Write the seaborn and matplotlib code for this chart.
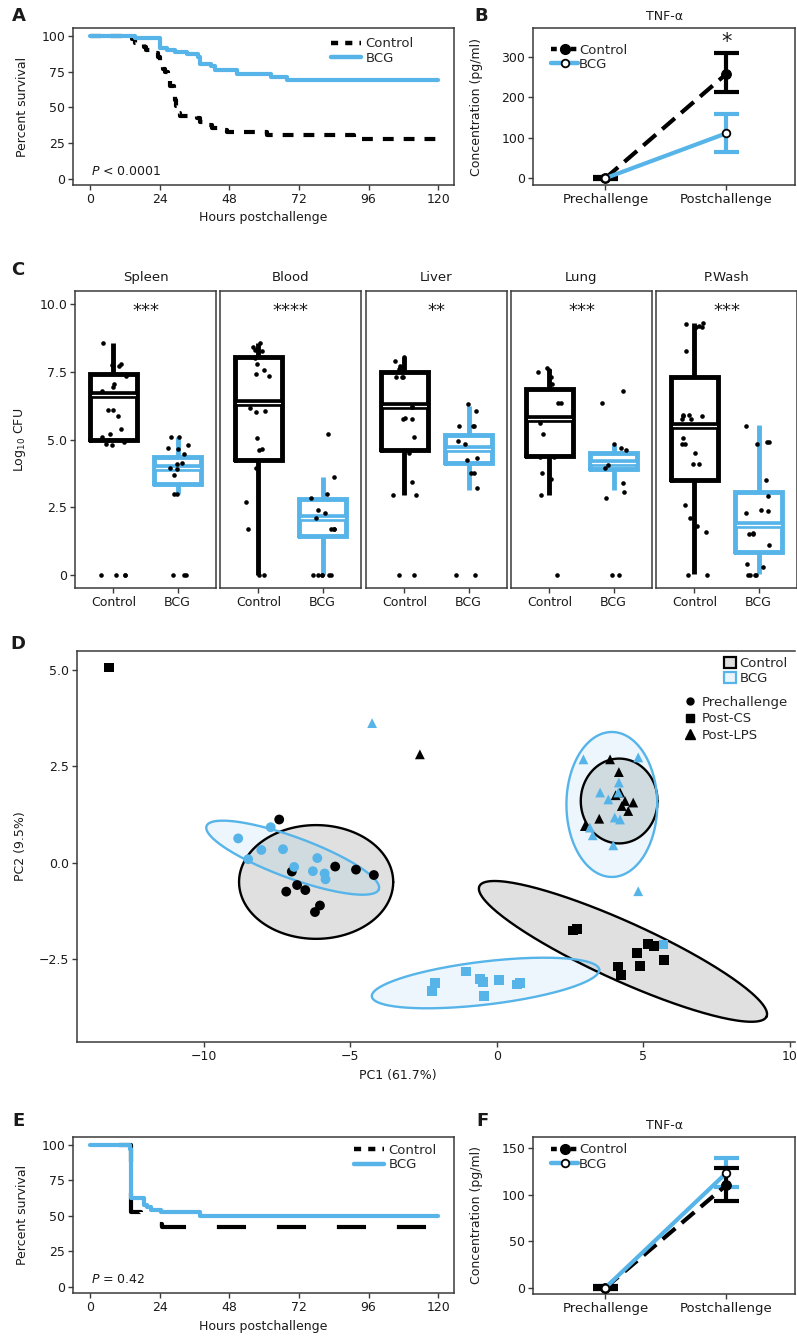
import numpy as np
import pandas as pd
import matplotlib
matplotlib.use("Agg")
import matplotlib.pyplot as plt
import seaborn as sns
from matplotlib.lines import Line2D
from matplotlib.patches import Patch

# ---------------- data ----------------
# Panel A: Kaplan-Meier survival (hours, percent)
A_ctrl_hours = [0, 14.5, 15.5, 18.5, 19.3, 22.5, 23.3, 24.2, 25.0, 25.6, 26.8, 27.4, 28.8, 29.1,
                29.4, 30.0, 31.0, 36.8, 38.0, 39.5, 42.0, 44.5, 47.0, 61.0, 91.0, 120]
A_ctrl_surv = [100, 98, 95, 92, 90, 88, 85, 81, 77, 75, 70, 65, 60, 55,
               51, 46, 44, 42.5, 40, 38, 35.5, 34, 32.5, 31, 28, 28]
A_bcg_hours = [0, 15.5, 24.0, 26.5, 29.3, 33.5, 37.0, 38.0, 41.5, 43.0, 50.5, 62.5, 68.0, 120]
A_bcg_surv = [100, 98.5, 91.5, 90, 88.5, 87.5, 85, 80.5, 79, 76.5, 73.5, 71, 69, 69]

# Panel B: TNF-a (pg/ml)
tnf_timepoints = ["Prechallenge", "Postchallenge"]
B_ctrl_mean = [0, 258]
B_ctrl_lo = [-2, 213]
B_ctrl_hi = [2, 309]
B_bcg_mean = [0, 111]
B_bcg_lo = [-2, 64]
B_bcg_hi = [2, 160]

# Panel C: log10 CFU per organ
organs = ["Spleen", "Blood", "Liver", "Lung", "P.Wash"]
organ_stars = ["***", "****", "**", "***", "***"]
groups = ["Control", "BCG"]
spleen_ctrl = [8.55, 7.8, 7.75, 7.7, 7.35, 7.05, 6.95, 6.8, 6.1, 6.1, 5.85, 5.4, 5.2, 5.1, 5.0, 4.9, 4.85, 4.8, 0, 0, 0, 0]
spleen_bcg = [5.1, 5.1, 4.8, 4.7, 4.65, 4.45, 4.15, 4.1, 3.95, 3.9, 3.7, 3.0, 3.0, 0, 0, 0]
blood_ctrl = [8.55, 8.4, 8.35, 8.3, 8.25, 8.0, 7.8, 7.55, 7.4, 7.35, 6.15, 6.05, 6.0, 5.05, 4.65, 4.6, 3.95, 2.7, 1.7, 0, 0]
blood_bcg = [5.2, 3.6, 3.0, 2.85, 2.4, 2.3, 2.1, 1.7, 1.7, 1.7, 0, 0, 0, 0, 0, 0]
liver_ctrl = [8.05, 7.9, 7.7, 7.65, 7.6, 7.3, 7.3, 7.3, 6.2, 6.2, 5.8, 5.75, 5.75, 5.1, 4.5, 3.45, 2.95, 2.95, 0, 0]
liver_bcg = [6.3, 6.05, 5.5, 5.5, 5.5, 4.95, 4.85, 4.3, 4.25, 3.75, 3.75, 3.2, 0, 0]
lung_ctrl = [7.65, 7.55, 7.5, 7.3, 7.05, 6.35, 6.35, 5.6, 5.2, 4.35, 4.35, 3.75, 3.55, 2.95, 0]
lung_bcg = [6.8, 6.35, 4.85, 4.7, 4.6, 4.05, 3.95, 3.4, 3.05, 2.85, 0, 0]
pwash_ctrl = [9.3, 9.25, 9.2, 9.15, 9.15, 8.25, 5.9, 5.9, 5.85, 5.85, 5.75, 5.75, 5.05, 4.85, 4.85,
              4.5, 4.1, 4.1, 2.6, 2.1, 1.8, 1.6, 0, 0]
pwash_bcg = [5.5, 4.9, 4.9, 4.85, 3.5, 2.9, 2.4, 2.35, 2.3, 1.55, 1.5, 1.5, 1.1, 0.4, 0.3, 0, 0, 0, 0]

box_q1_ctrl = [5.0, 4.25, 4.6, 4.4, 3.5]
box_med_ctrl = [6.65, 6.35, 6.25, 5.75, 5.5]
box_q3_ctrl = [7.4, 8.05, 7.5, 6.85, 7.3]
box_lo_ctrl = [5.0, 0.0, 2.95, 2.95, 0.05]
box_hi_ctrl = [8.55, 8.55, 8.05, 7.6, 9.3]
box_q1_bcg = [3.35, 1.45, 4.15, 3.9, 0.85]
box_med_bcg = [3.95, 2.1, 4.65, 4.15, 1.85]
box_q3_bcg = [4.35, 2.8, 5.15, 4.5, 3.05]
box_lo_bcg = [3.0, 0.0, 3.15, 3.15, 0.05]
box_hi_bcg = [5.1, 3.6, 6.25, 4.8, 5.55]

# Panel D: PCA scores
pre_ctrl_pc1 = [-7.43, -7.0, -6.82, -6.54, -7.19, -5.52, -4.81, -4.20, -6.04, -6.21]
pre_ctrl_pc2 = [1.12, -0.23, -0.58, -0.71, -0.75, -0.10, -0.18, -0.32, -1.11, -1.28]
pre_bcg_pc1 = [-8.83, -7.72, -8.04, -8.49, -7.30, -6.13, -6.92, -6.28, -5.88, -5.85]
pre_bcg_pc2 = [0.63, 0.92, 0.33, 0.09, 0.35, 0.12, -0.11, -0.22, -0.28, -0.43]
cs_ctrl_pc1 = [-13.23, 2.72, 2.60, 5.16, 5.36, 4.77, 5.71, 4.14, 4.88, 4.23]
cs_ctrl_pc2 = [5.06, -1.71, -1.76, -2.10, -2.17, -2.34, -2.53, -2.69, -2.67, -2.92]
cs_bcg_pc1 = [5.68, -1.06, -0.58, -0.49, 0.08, 0.67, 0.78, -0.43, -2.12, -2.21]
cs_bcg_pc2 = [-2.12, -2.82, -3.01, -3.10, -3.05, -3.16, -3.13, -3.46, -3.13, -3.33]
lps_ctrl_pc1 = [-2.63, 3.86, 4.16, 4.20, 4.37, 4.65, 4.48, 3.49, 3.00, 4.26, 4.05]
lps_ctrl_pc2 = [2.81, 2.68, 2.35, 1.82, 1.60, 1.56, 1.34, 1.14, 0.95, 1.47, 1.75]
lps_bcg_pc1 = [-4.26, 2.95, 4.82, 4.16, 3.52, 3.80, 4.14, 4.02, 4.20, 3.17, 3.27, 3.97, 4.82]
lps_bcg_pc2 = [3.62, 2.68, 2.73, 2.08, 1.82, 1.64, 1.82, 1.17, 1.12, 0.91, 0.71, 0.45, -0.74]

# confidence ellipses: centre and two conjugate semi-diameters (data units)
ell_group = ["Control", "BCG", "Control", "BCG", "Control", "BCG"]
ell_cx = [-6.17, -6.97, 4.17, 3.92, 4.30, -0.39]
ell_cy = [-0.50, 0.13, 1.60, 1.51, -2.30, -3.12]
ell_ux = [2.63, 2.94, 1.31, 1.55, 4.90, 3.88]
ell_uy = [0.0, -0.82, 0.0, 0.0, -1.69, 0.35]
ell_vx = [0.0, -0.24, 0.0, 0.0, -0.41, 0.085]
ell_vy = [1.475, -0.50, 1.10, 1.88, -0.69, -0.555]

# Panel E: Kaplan-Meier survival
E_ctrl_hours = [0, 14.0, 17.3, 17.8, 18.3, 22.0, 24.8, 120]
E_ctrl_surv = [100, 52.5, 50.5, 47.5, 46, 44.5, 42.5, 42.5]
E_bcg_hours = [0, 13.8, 14.0, 18.5, 19.5, 21.0, 24.5, 38.0, 120]
E_bcg_surv = [100, 97, 62.5, 58, 56.5, 54.5, 52.5, 50, 50]

# Panel F: TNF-a
F_ctrl_mean = [0, 110]
F_ctrl_lo = [-1.5, 93]
F_ctrl_hi = [1.5, 129]
F_bcg_mean = [0, 123]
F_bcg_lo = [-1.5, 108]
F_bcg_hi = [1.5, 139]

# ---------------- style ----------------
sns.set_theme(style="ticks")
plt.rcParams["font.family"] = ["DejaVu Sans"]
plt.rcParams["mathtext.fontset"] = "dejavusans"
BLUE = "#56B4E9"
INK = "#1a1a1a"
SPINE = "#3a3a3a"
W, H = 797, 1339

fig = plt.figure(figsize=(W / 100, H / 100), dpi=100)


def add_ax(l, t, r, b):
    return fig.add_axes([l / W, 1 - b / H, (r - l) / W, (b - t) / H])


def frame(ax):
    for s in ax.spines.values():
        s.set_visible(True)
        s.set_color(SPINE)
        s.set_linewidth(1.1)
    ax.tick_params(axis="both", direction="out", length=3.5, width=1.0, color=SPINE,
                   labelsize=9, labelcolor=INK, pad=2)
    ax.grid(False)


def km(ax, hours, surv, **kw):
    sns.lineplot(x=hours, y=surv, drawstyle="steps-post", estimator=None, sort=False,
                 ax=ax, **kw)


def letter(x, y, s):
    fig.text(x / W, 1 - y / H, s, fontsize=13, fontweight="bold", color=INK,
             ha="center", va="center")


def survival_panel(ax, ch, cs, bh, bs, ctrl_ls, ptext, leg_anchor):
    km(ax, ch, cs, color="black", lw=3, linestyle=ctrl_ls, solid_capstyle="butt")
    km(ax, bh, bs, color=BLUE, lw=3)
    ax.set_xlim(-6, 125.5)
    ax.set_ylim(-4.2, 105.5)
    ax.set_xticks(range(0, 121, 24))
    ax.set_yticks(range(0, 101, 25))
    frame(ax)
    ax.set_xlabel("Hours postchallenge", fontsize=9, color=INK)
    ax.set_ylabel("Percent survival", fontsize=9, color=INK)
    ax.yaxis.set_label_coords(-0.115, 0.5)
    ax.text(0.3, 5, ptext, fontsize=9, color=INK, ha="left", va="center")
    hs = [Line2D([], [], color="black", lw=3.2, ls=(0, (1.6, 1.6))),
          Line2D([], [], color=BLUE, lw=3.2)]
    ax.legend(hs, ["Control", "BCG"], loc="upper right", bbox_to_anchor=leg_anchor,
              frameon=False, fontsize=9.5, handlelength=2.3, handletextpad=0.35,
              labelspacing=0.1, borderaxespad=0, borderpad=0)


def tnf_panel(ax, cm, clo, chi, bm, blo, bhi, ylim, yticks, leg_anchor):
    xpos = [0, 1]
    ax.errorbar(xpos, bm, yerr=[np.subtract(bm, blo), np.subtract(bhi, bm)], fmt="none",
                ecolor=BLUE, elinewidth=3, capsize=9, capthick=3, zorder=2)
    ax.errorbar(xpos, cm, yerr=[np.subtract(cm, clo), np.subtract(chi, cm)], fmt="none",
                ecolor="black", elinewidth=3, capsize=9, capthick=3, zorder=3)
    sns.lineplot(x=xpos, y=cm, color="black", lw=3, linestyle=(0, (4, 2)), marker="o",
                 markersize=7, markerfacecolor="black", markeredgecolor="black",
                 estimator=None, ax=ax, zorder=4)
    sns.lineplot(x=xpos, y=bm, color=BLUE, lw=3, marker="o", markersize=5.5,
                 markerfacecolor="white", markeredgecolor="black", markeredgewidth=1.3,
                 estimator=None, ax=ax, zorder=5)
    ax.set_xlim(-0.6, 1.57)
    ax.set_ylim(*ylim)
    ax.set_xticks(xpos)
    ax.set_xticklabels(tnf_timepoints)
    ax.set_yticks(yticks)
    frame(ax)
    ax.tick_params(axis="x", labelsize=9.5)
    ax.set_title("TNF-α", fontsize=9, color=INK, pad=6)
    ax.set_ylabel("Concentration (pg/ml)", fontsize=9, color=INK)
    ax.yaxis.set_label_coords(-0.19, 0.5)
    hs = [Line2D([], [], color="black", lw=3.2, ls=(0, (1.3, 0.9)), marker="o", ms=7,
                 mfc="black", mec="black"),
          Line2D([], [], color=BLUE, lw=3.2, marker="o", ms=5.5, mfc="white", mec="black",
                 mew=1.3)]
    ax.legend(hs, ["Control", "BCG"], loc="upper left", bbox_to_anchor=leg_anchor,
              frameon=False, fontsize=9.5, handlelength=2.0, handletextpad=0.1,
              labelspacing=0.1, borderaxespad=0, borderpad=0)


# ---------------- panel A ----------------
axA = add_ax(73, 28, 454, 185)
survival_panel(axA, A_ctrl_hours, A_ctrl_surv, A_bcg_hours, A_bcg_surv,
               (0, (2.6, 2.4)), "$P$ < 0.0001", (0.895, 0.94))
letter(19, 16, "A")

# ---------------- panel B ----------------
axB = add_ax(533, 28, 795, 185)
tnf_panel(axB, B_ctrl_mean, B_ctrl_lo, B_ctrl_hi, B_bcg_mean, B_bcg_lo, B_bcg_hi,
          (-17, 372), [0, 100, 200, 300], (0.07, 0.9))
axB.text(1, 338, "*", ha="center", va="center", fontsize=15, color=INK)
letter(481, 16, "B")

# ---------------- panel C ----------------
cfu_values = {
    ("Spleen", "Control"): spleen_ctrl, ("Spleen", "BCG"): spleen_bcg,
    ("Blood", "Control"): blood_ctrl, ("Blood", "BCG"): blood_bcg,
    ("Liver", "Control"): liver_ctrl, ("Liver", "BCG"): liver_bcg,
    ("Lung", "Control"): lung_ctrl, ("Lung", "BCG"): lung_bcg,
    ("P.Wash", "Control"): pwash_ctrl, ("P.Wash", "BCG"): pwash_bcg,
}
df_c = pd.DataFrame([(o, g, v) for (o, g), vals in cfu_values.items() for v in vals],
                    columns=["organ", "group", "cfu"])

np.random.seed(7)
c_lefts = [75, 220, 366, 511, 656]
for i, organ in enumerate(organs):
    ax = add_ax(c_lefts[i], 291, c_lefts[i] + 141, 588)
    sub = df_c[df_c["organ"] == organ]
    stats = [
        dict(med=box_med_ctrl[i], q1=box_q1_ctrl[i], q3=box_q3_ctrl[i],
             whislo=box_lo_ctrl[i], whishi=box_hi_ctrl[i], fliers=[]),
        dict(med=box_med_bcg[i], q1=box_q1_bcg[i], q3=box_q3_bcg[i],
             whislo=box_lo_bcg[i], whishi=box_hi_bcg[i], fliers=[]),
    ]
    for j, col in enumerate(["black", BLUE]):
        ax.bxp([stats[j]], positions=[j], widths=0.72, showfliers=False, showcaps=False,
               manage_ticks=False,
               boxprops=dict(color=col, lw=3.5, solid_joinstyle="miter"),
               whiskerprops=dict(color=col, lw=3.5, solid_capstyle="butt"),
               medianprops=dict(color=col, lw=5.5, solid_capstyle="butt"))
        ax.plot([j - 0.34, j + 0.34], [stats[j]["med"]] * 2, color="white", lw=0.9,
                zorder=2.5)
    sns.stripplot(data=sub, x="group", y="cfu", order=groups, color="black", size=3.3,
                  jitter=0.2, linewidth=0, ax=ax, zorder=5)
    ax.set_xlim(-0.6, 1.6)
    ax.set_ylim(-0.48, 10.48)
    frame(ax)
    ax.set_xlabel("")
    ax.set_title(organ, fontsize=9.5, color=INK, pad=7)
    ax.text(0.5, 9.75, organ_stars[i], ha="center", va="center", fontsize=13, color=INK)
    ax.set_yticks([0, 2.5, 5.0, 7.5, 10.0])
    if i == 0:
        ax.set_yticklabels(["0", "2.5", "5.0", "7.5", "10.0"])
        ax.set_ylabel("Log$_{10}$ CFU", fontsize=9, color=INK)
        ax.yaxis.set_label_coords(-0.33, 0.5)
    else:
        ax.set_ylabel("")
        ax.tick_params(axis="y", left=False, labelleft=False)
letter(18, 270, "C")

# ---------------- panel D ----------------
axD = add_ax(77, 651, 795, 1042)
tt = np.linspace(0, 2 * np.pi, 240)
fills = {"Control": ("#9a9a9a", 0.3, "black"), "BCG": (BLUE, 0.11, BLUE)}
for k in range(len(ell_cx)):
    ex = ell_cx[k] + ell_ux[k] * np.cos(tt) + ell_vx[k] * np.sin(tt)
    ey = ell_cy[k] + ell_uy[k] * np.cos(tt) + ell_vy[k] * np.sin(tt)
    fc, al, ec = fills[ell_group[k]]
    axD.fill(ex, ey, color=fc, alpha=al, lw=0, zorder=1)
    axD.plot(ex, ey, color=ec, lw=1.7, zorder=2)

rows = []
for g, tp, xs, ys in [
    ("Control", "Prechallenge", pre_ctrl_pc1, pre_ctrl_pc2),
    ("Control", "Post-CS", cs_ctrl_pc1, cs_ctrl_pc2),
    ("Control", "Post-LPS", lps_ctrl_pc1, lps_ctrl_pc2),
    ("BCG", "Prechallenge", pre_bcg_pc1, pre_bcg_pc2),
    ("BCG", "Post-CS", cs_bcg_pc1, cs_bcg_pc2),
    ("BCG", "Post-LPS", lps_bcg_pc1, lps_bcg_pc2),
]:
    for xv, yv in zip(xs, ys):
        rows.append((g, tp, xv, yv))
df_d = pd.DataFrame(rows, columns=["group", "timepoint", "PC1", "PC2"])
sns.scatterplot(data=df_d, x="PC1", y="PC2", hue="group", style="timepoint",
                palette={"Control": "black", "BCG": BLUE},
                markers={"Prechallenge": "o", "Post-CS": "s", "Post-LPS": "^"},
                s=50, linewidth=0, legend=False, ax=axD, zorder=3)
axD.set_xlim(-14.33, 10.17)
axD.set_ylim(-4.65, 5.49)
axD.set_xticks([-10, -5, 0, 5, 10])
axD.set_yticks([-2.5, 0.0, 2.5, 5.0])
frame(axD)
axD.spines["right"].set_visible(False)
axD.set_xlabel("PC1 (61.7%)", fontsize=9, color=INK)
axD.xaxis.set_label_coords(0.447, -0.07)
axD.set_ylabel("PC2 (9.5%)", fontsize=9, color=INK)
axD.yaxis.set_label_coords(-0.07, 0.5)
leg1 = axD.legend(handles=[Patch(facecolor="#dedede", edgecolor="black", lw=1.6),
                           Patch(facecolor="#eaf5fc", edgecolor=BLUE, lw=1.6)],
                  labels=["Control", "BCG"], loc="upper right", bbox_to_anchor=(0.99, 0.985),
                  frameon=False, fontsize=9.5, handlelength=0.9, handleheight=0.9,
                  handletextpad=0.25, labelspacing=0.15, borderaxespad=0, borderpad=0)
axD.add_artist(leg1)
axD.legend(handles=[Line2D([], [], ls="", marker="o", color="black", ms=5),
                    Line2D([], [], ls="", marker="s", color="black", ms=5.5),
                    Line2D([], [], ls="", marker="^", color="black", ms=7)],
           labels=["Prechallenge", "Post-CS", "Post-LPS"], loc="upper right",
           bbox_to_anchor=(0.99, 0.885), frameon=False, fontsize=9.5, handlelength=1.0,
           handletextpad=0.4, labelspacing=0.25, borderaxespad=0, borderpad=0)
letter(18, 644, "D")

# ---------------- panel E ----------------
axE = add_ax(73, 1137, 454, 1293)
survival_panel(axE, E_ctrl_hours, E_ctrl_surv, E_bcg_hours, E_bcg_surv,
               (7.47, (7, 7.4)), "$P$ = 0.42", (0.955, 0.955))
axE.xaxis.set_label_coords(0.5, -0.17)
letter(18, 1121, "E")

# ---------------- panel F ----------------
axF = add_ax(533, 1137, 795, 1294)
tnf_panel(axF, F_ctrl_mean, F_ctrl_lo, F_ctrl_hi, F_bcg_mean, F_bcg_lo, F_bcg_hi,
          (-6.8, 161.8), [0, 50, 100, 150], (0.07, 0.96))
letter(482, 1121, "F")

fig.savefig("out.png", dpi=100)
